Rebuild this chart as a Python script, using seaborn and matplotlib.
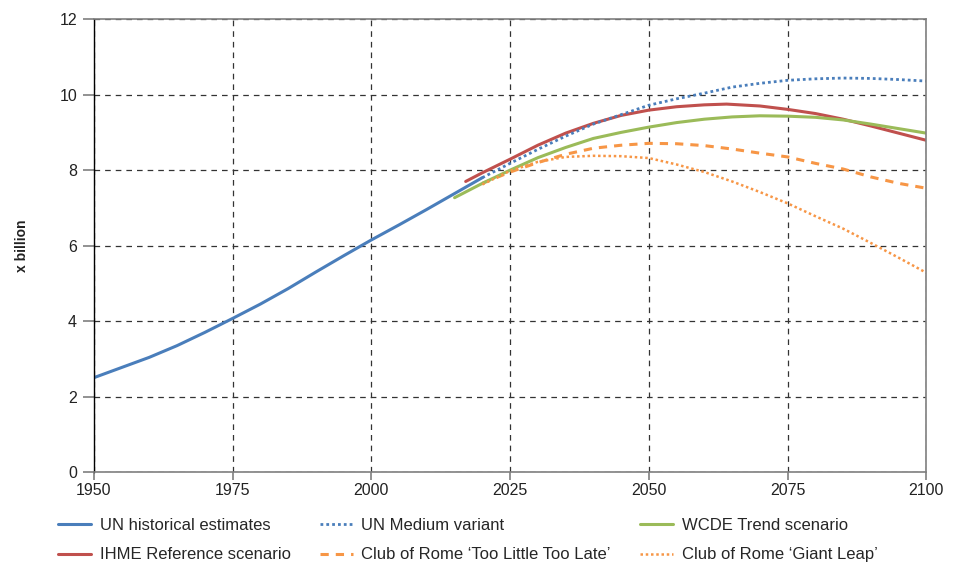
import numpy as np
import pandas as pd
import matplotlib
matplotlib.use("Agg")
import matplotlib.pyplot as plt
import seaborn as sns

# UN historical estimates
hist_years = [1950, 1955, 1960, 1965, 1970, 1975, 1980, 1985, 1990, 1995, 2000, 2005, 2010, 2015, 2020]
hist_pop = [2.5, 2.77, 3.04, 3.35, 3.7, 4.07, 4.45, 4.86, 5.3, 5.73, 6.15, 6.55, 6.96, 7.38, 7.8]

# projections
proj_years = [2020, 2025, 2030, 2035, 2040, 2045, 2050, 2055, 2060, 2065, 2070, 2075, 2080, 2085, 2090, 2095, 2100]
un_medium = [7.8, 8.18, 8.55, 8.9, 9.22, 9.47, 9.72, 9.89, 10.04, 10.2, 10.3, 10.38, 10.42, 10.44, 10.43, 10.4, 10.36]
tltl = [7.65, 7.95, 8.2, 8.42, 8.58, 8.66, 8.71, 8.7, 8.65, 8.56, 8.45, 8.35, 8.18, 8.03, 7.82, 7.65, 7.52]
giant_leap = [7.62, 7.98, 8.22, 8.35, 8.38, 8.37, 8.32, 8.15, 7.95, 7.7, 7.42, 7.12, 6.78, 6.45, 6.07, 5.68, 5.28]

ihme_years = [2017, 2020, 2025, 2030, 2035, 2040, 2045, 2050, 2055, 2060, 2064, 2070, 2075, 2080, 2085, 2090, 2095, 2100]
ihme_ref = [7.7, 7.93, 8.29, 8.66, 8.98, 9.24, 9.45, 9.59, 9.68, 9.73, 9.75, 9.7, 9.61, 9.5, 9.35, 9.17, 8.98, 8.79]

wcde_years = [2015, 2020, 2025, 2030, 2035, 2040, 2045, 2050, 2055, 2060, 2065, 2070, 2075, 2080, 2085, 2090, 2095, 2100]
wcde_trend = [7.27, 7.65, 8.0, 8.33, 8.6, 8.84, 9.0, 9.14, 9.26, 9.35, 9.41, 9.44, 9.43, 9.4, 9.33, 9.22, 9.1, 8.98]

x_ticks = [1950, 1975, 2000, 2025, 2050, 2075, 2100]
y_ticks = [0, 2, 4, 6, 8, 10, 12]

sns.set_style("white")
plt.rcParams['font.family'] = ['Liberation Sans', 'DejaVu Sans']

fig, ax = plt.subplots(figsize=(9.57, 5.64), dpi=100)
fig.subplots_adjust(left=0.098, right=0.968, top=0.966, bottom=0.163)

blue = '#4a7ebb'
red = '#c0504d'
green = '#9bbb59'
orange = '#f79646'

sns.lineplot(x=hist_years, y=hist_pop, ax=ax, color=blue, lw=2.2, label='UN historical estimates')
sns.lineplot(x=ihme_years, y=ihme_ref, ax=ax, color=red, lw=2.2, label='IHME Reference scenario')
sns.lineplot(x=proj_years, y=un_medium, ax=ax, color=blue, lw=2.0, label='UN Medium variant')
ax.lines[-1].set_linestyle((0, (1, 1.1)))
sns.lineplot(x=proj_years, y=tltl, ax=ax, color=orange, lw=2.2, label='Club of Rome \u2018Too Little Too Late\u2019')
ax.lines[-1].set_linestyle((0, (2.7, 2.3)))
sns.lineplot(x=wcde_years, y=wcde_trend, ax=ax, color=green, lw=2.2, label='WCDE Trend scenario')
sns.lineplot(x=proj_years, y=giant_leap, ax=ax, color=orange, lw=1.8, label='Club of Rome \u2018Giant Leap\u2019')
ax.lines[-1].set_linestyle((0, (1, 1.1)))

ax.set_xlim(1950, 2100)
ax.set_ylim(0, 12)
ax.set_xticks(x_ticks)
ax.set_yticks(y_ticks)
ax.grid(True, color='#333333', linestyle=(0, (4.5, 4)), linewidth=0.9)
ax.set_axisbelow(True)

for side in ['top', 'right', 'bottom']:
    ax.spines[side].set_color('#7f7f7f')
    ax.spines[side].set_linewidth(1.2)
ax.spines['left'].set_color('#000000')
ax.spines['left'].set_linewidth(1.0)

ax.tick_params(axis='both', labelsize=11.5, colors='#7f7f7f', labelcolor='#222222',
               length=8, width=1.2, direction='out')
ax.tick_params(axis='x', pad=2, length=6)
ax.tick_params(axis='y', pad=4)
ax.yaxis.set_ticks_position('left')
ax.xaxis.set_ticks_position('bottom')

ax.set_ylabel('x billion', fontsize=10, fontweight='bold', labelpad=22, color='#222222')
ax.set_xlabel('')

handles, labels = ax.get_legend_handles_labels()
ax.legend_.remove()
fig.legend(handles, labels, loc='upper left', bbox_to_anchor=(0.0606, 0.081), ncol=3,
           frameon=False, borderpad=0, borderaxespad=0, handlelength=2.0, handletextpad=0.5,
           columnspacing=1.75, labelspacing=0.85,
           prop={'family': ['Liberation Sans', 'DejaVu Sans'], 'size': 12})

plt.savefig('out.png', dpi=100)
